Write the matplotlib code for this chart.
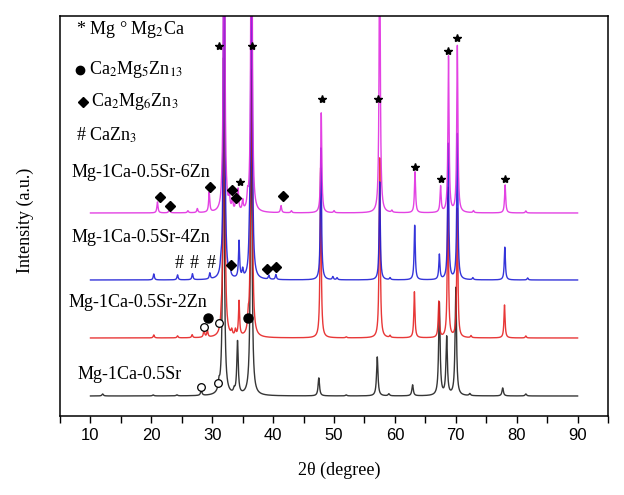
import numpy as np
import matplotlib
matplotlib.use("Agg")
import matplotlib.pyplot as plt

plt.rcParams["font.family"] = ["Liberation Serif", "DejaVu Sans"]
plt.rcParams["mathtext.fontset"] = "stix"

# baselines of the stacked patterns (arbitrary units)
BASE = {"0.5Sr": 20, "2Zn": 78, "4Zn": 136, "6Zn": 203}

# peak lists: position (deg 2theta), height above baseline
pk_sr_pos = [12.0, 20.3, 24.2, 28.2, 31.1, 31.85, 33.6, 34.15, 36.4, 47.5,
             52.0, 57.1, 59.0, 62.9, 67.3, 68.5, 70.0, 72.3, 77.7, 81.5]
pk_sr_h = [2, 1, 1, 5, 8, 339, 4, 53, 326, 18,
           1, 39, 2, 11, 93, 58, 108, 2, 8, 2]

pk_2zn_pos = [20.4, 24.3, 26.7, 28.65, 29.2, 31.5, 31.95, 33.2, 33.8, 34.4,
              35.9, 36.45, 47.8, 52.0, 57.5, 59.2, 63.2, 67.2, 68.7, 70.25,
              72.5, 78.0, 81.5]
pk_2zn_h = [3, 2, 3, 8, 7, 11, 500, 5, 6, 35,
            13, 500, 170, 1, 180, 2, 46, 36, 150, 130,
            2, 33, 2]

pk_4zn_pos = [20.4, 24.3, 26.75, 29.6, 31.4, 31.95, 32.9, 34.4, 35.0, 36.1,
              36.45, 39.3, 40.45, 47.85, 49.8, 50.5, 57.5, 59.2, 63.25, 67.3,
              68.75, 70.25, 72.8, 78.05, 81.8]
pk_4zn_h = [6, 5, 6, 6, 6, 500, 10, 37, 8, 23,
            500, 4, 5, 133, 3, 2, 98, 2, 55, 25,
            137, 147, 2, 33, 2]

pk_6zn_pos = [21.0, 22.95, 26.0, 27.55, 29.5, 31.6, 31.95, 32.8, 33.3, 33.9,
              34.25, 35.0, 35.8, 36.45, 41.3, 43.0, 47.9, 50.0, 57.5, 59.5,
              63.3, 67.5, 68.8, 70.25, 72.9, 78.1, 81.5]
pk_6zn_h = [11, 4, 2, 4, 20, 6, 500, 13, 10, 14,
            21, 10, 12, 500, 7, 2, 100, 2, 300, 2,
            41, 26, 156, 168, 2, 28, 2]

labels = ["Mg-1Ca-0.5Sr", "Mg-1Ca-0.5Sr-2Zn", "Mg-1Ca-0.5Sr-4Zn", "Mg-1Ca-0.5Sr-6Zn"]
label_xy = [(7.9, 41), (6.4, 113), (6.9, 178), (6.9, 243)]
colors = ["#202020", "#e62222", "#1f1fd6", "#e02ee0"]

# phase markers: (deg, y)
star_x = [31.15, 36.5, 48.0, 57.2, 63.3, 67.6, 68.8, 70.2, 78.1, 34.6]
star_y = [370, 370, 317, 317, 249, 237, 365, 378, 237, 234]
ocirc_x = [28.1, 30.9, 28.6, 31.1]
ocirc_y = [29, 33, 89, 93]
fcirc_x = [29.3, 35.8]
fcirc_y = [98, 98]
diam_x = [21.4, 23.0, 29.6, 33.3, 33.9, 41.6, 33.0, 39.0, 40.4]
diam_y = [219, 210, 229, 226, 218, 220, 151, 147, 149]
hash_x = [24.6, 27.0, 29.9]
hash_y = [152, 152, 152]

# phase key rows
key_sym_x = [8.35, 8.85]
key_sym_y = [346, 314]


def profile(x, pos, h, w):
    y = np.zeros_like(x)
    for p, a in zip(pos, h):
        y += a / (1 + ((x - p) / w) ** 2)
    return y


def main():
    fig = plt.figure(figsize=(6.24, 4.95), dpi=100)
    ax = fig.add_axes([0.0962, 0.1596, 0.8782, 0.8081])

    x = np.linspace(10, 90, 4001)
    series = [(pk_sr_pos, pk_sr_h, BASE["0.5Sr"], 0.14),
              (pk_2zn_pos, pk_2zn_h, BASE["2Zn"], 0.11),
              (pk_4zn_pos, pk_4zn_h, BASE["4Zn"], 0.11),
              (pk_6zn_pos, pk_6zn_h, BASE["6Zn"], 0.11)]
    for (pos, h, base, w), c in zip(series, colors):
        ax.plot(x, base + profile(x, pos, h, w), color=c, lw=1.0, alpha=0.9)

    for (tx, ty), lab in zip(label_xy, labels):
        ax.text(tx, ty, lab, fontsize=13, va="center", ha="left")

    ax.plot(star_x, star_y, "*", color="black", ms=6, ls="none")
    ax.plot(ocirc_x, ocirc_y, "o", mfc="white", mec="black", mew=0.9, ms=5.5, ls="none")
    ax.plot(fcirc_x, fcirc_y, "o", color="black", ms=6.5, ls="none")
    ax.plot(diam_x, diam_y, "D", color="black", ms=5.5, ls="none")
    for hx, hy in zip(hash_x, hash_y):
        ax.text(hx, hy, "#", fontsize=13, ha="center", va="center")

    # phase key
    ax.text(7.7, 386, "* Mg \u00b0 Mg$_2$Ca", fontsize=13, va="center")
    ax.plot(key_sym_x[:1], key_sym_y[:1], "o", color="black", ms=6, ls="none")
    ax.plot(key_sym_x[1:], key_sym_y[1:], "D", color="black", ms=5.5, ls="none")
    ax.text(9.8, 346, "Ca$_2$Mg$_5$Zn$_{13}$", fontsize=13, va="center")
    ax.text(10.1, 314, "Ca$_2$Mg$_6$Zn$_3$", fontsize=13, va="center")
    ax.text(7.7, 281, "# CaZn$_3$", fontsize=13, va="center")

    ax.set_xlim(5, 95)
    ax.set_ylim(0, 400)
    ax.set_xticks(np.arange(10, 91, 10))
    ax.set_xticks(np.arange(5, 96, 10), minor=True)
    ax.tick_params(axis="x", which="both", direction="out", length=5, width=1)
    ax.set_xticklabels([str(v) for v in range(10, 91, 10)],
                       family="Liberation Sans", fontsize=12)
    ax.set_yticks([])
    for s in ax.spines.values():
        s.set_linewidth(1.1)

    ax.set_xlabel("2\u03b8 (degree)", fontsize=13)
    ax.xaxis.set_label_coords(0.51, -0.115)
    ax.set_ylabel("Intensity (a.u.)", fontsize=13)
    ax.yaxis.set_label_coords(-0.047, 0.49)

    fig.savefig("out.png", dpi=100)


if __name__ == "__main__":
    main()
